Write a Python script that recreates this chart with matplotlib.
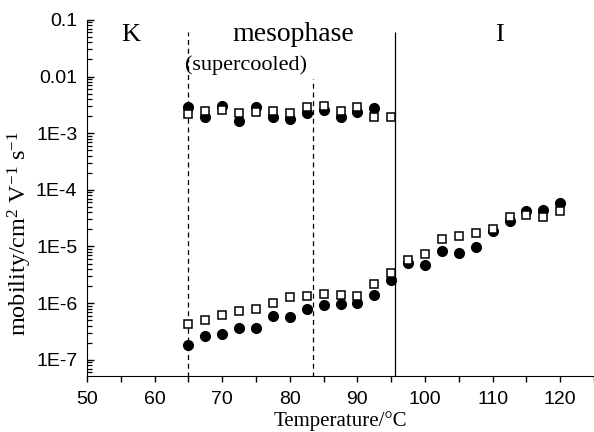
import matplotlib.pyplot as plt
import numpy as np
from matplotlib.ticker import FixedLocator, FixedFormatter, MultipleLocator

plt.rcParams['mathtext.fontset'] = 'custom'
plt.rcParams['mathtext.rm'] = 'Liberation Serif'
plt.rcParams['mathtext.it'] = 'Liberation Serif:italic'

# temperatures (deg C)
temp_upper_filled = [65, 67.5, 70, 72.5, 75, 77.5, 80, 82.5, 85, 87.5, 90, 92.5]
temp_upper_open = [65, 67.5, 70, 72.5, 75, 77.5, 80, 82.5, 85, 87.5, 90, 92.5, 95]
temp_lower = [65, 67.5, 70, 72.5, 75, 77.5, 80, 82.5, 85, 87.5, 90, 92.5, 95,
              97.5, 100, 102.5, 105, 107.5, 110, 112.5, 115, 117.5, 120]

# mobilities, cm2/Vs
mob_upper_filled = [2.86e-3, 1.91e-3, 2.98e-3, 1.63e-3, 2.86e-3, 1.91e-3,
                    1.76e-3, 2.24e-3, 2.53e-3, 1.91e-3, 2.34e-3, 2.75e-3]
mob_upper_open = [2.15e-3, 2.43e-3, 2.53e-3, 2.24e-3, 2.34e-3, 2.43e-3, 2.24e-3,
                  2.86e-3, 2.98e-3, 2.43e-3, 2.86e-3, 1.91e-3, 1.91e-3]
mob_lower_filled = [1.83e-7, 2.64e-7, 2.86e-7, 3.64e-7, 3.64e-7, 5.91e-7, 5.68e-7,
                    7.85e-7, 9.23e-7, 9.6e-7, 1.0e-6, 1.38e-6, 2.53e-6, 5.04e-6,
                    4.65e-6, 8.17e-6, 7.53e-6, 9.6e-6, 1.91e-5, 2.86e-5, 4.29e-5,
                    4.46e-5, 5.91e-5]
mob_lower_open = [4.29e-7, 5.04e-7, 6.16e-7, 7.24e-7, 7.85e-7, 1.0e-6, 1.27e-6,
                  1.33e-6, 1.44e-6, 1.38e-6, 1.33e-6, 2.15e-6, 3.36e-6, 5.68e-6,
                  7.24e-6, 1.33e-5, 1.56e-5, 1.76e-5, 2.07e-5, 3.36e-5, 3.64e-5,
                  3.36e-5, 4.29e-5]

# phase boundaries
t_cryst = 65
t_super = 83.5
t_iso = 95.5

ytick_vals = [1e-7, 1e-6, 1e-5, 1e-4, 1e-3, 1e-2, 1e-1]
ytick_labels = ['1E-7', '1E-6', '1E-5', '1E-4', '1E-3', '0.01', '0.1']

fig = plt.figure(figsize=(5.94, 4.32), dpi=100)
ax = fig.add_axes([0.1465, 0.13, 0.8535, 0.824])

ax.vlines(t_cryst, 5e-8, 0.062, colors='black', linestyles=(0, (4, 3)), lw=0.9)
ax.vlines(t_super, 5e-8, 0.0089, colors='black', linestyles=(0, (4, 3)), lw=0.9)
ax.vlines(t_iso, 5e-8, 0.062, colors='black', lw=0.9)

ms_c = 7
ms_s = 6.3
ax.plot(temp_upper_filled, mob_upper_filled, 'o', color='black', ms=ms_c, zorder=3)
ax.plot(temp_lower, mob_lower_filled, 'o', color='black', ms=ms_c, zorder=3)
ax.plot(temp_upper_open, mob_upper_open, 's', mfc='white', mec='black', mew=1.1,
        ms=ms_s, zorder=4)
ax.plot(temp_lower, mob_lower_open, 's', mfc='white', mec='black', mew=1.1,
        ms=ms_s, zorder=4)

ax.set_yscale('log')
ax.set_xlim(50, 125)
ax.set_ylim(5.2e-8, 0.1)

# minor ticks 2..9 in every decade
minor_y = [m * 10.0 ** e for e in range(-8, -1) for m in range(2, 10)]
ax.yaxis.set_major_locator(FixedLocator(ytick_vals))
ax.yaxis.set_major_formatter(FixedFormatter(ytick_labels))
ax.yaxis.set_minor_locator(FixedLocator(minor_y))
ax.yaxis.set_minor_formatter(plt.NullFormatter())
ax.xaxis.set_major_locator(MultipleLocator(10))
ax.xaxis.set_minor_locator(MultipleLocator(5))

sans = ['Liberation Sans', 'DejaVu Sans']
serif = ['Liberation Serif', 'DejaVu Serif']
for lab in ax.get_xticklabels() + ax.get_yticklabels():
    lab.set_family(sans)
    lab.set_fontsize(14)

ax.tick_params(axis='y', which='major', direction='in', length=5, width=1, pad=7)
ax.tick_params(axis='y', which='minor', direction='in', length=3.5, width=0.9)
ax.tick_params(axis='x', which='both', direction='out', length=4, width=1, pad=7)

ax.spines['top'].set_visible(False)
ax.spines['right'].set_visible(False)

ax.set_xlabel('Temperature/\u00b0C', family=serif, fontsize=15, labelpad=2)
ax.set_ylabel('mobility/cm$^2$ V$^{-1}$ s$^{-1}$', family=serif, fontsize=17.5)
ax.yaxis.set_label_coords(-0.105, 0.40)

ax.text(56.4, 0.055, 'K', family=serif, fontsize=19, ha='center', va='center')
ax.text(80.5, 0.056, 'mesophase', family=serif, fontsize=20, ha='center', va='center')
ax.text(111, 0.055, 'I', family=serif, fontsize=19, ha='center', va='center')
ax.text(64.5, 0.016, '(supercooled)', family=serif, fontsize=16, ha='left', va='center')

fig.savefig('out.png', dpi=100)
